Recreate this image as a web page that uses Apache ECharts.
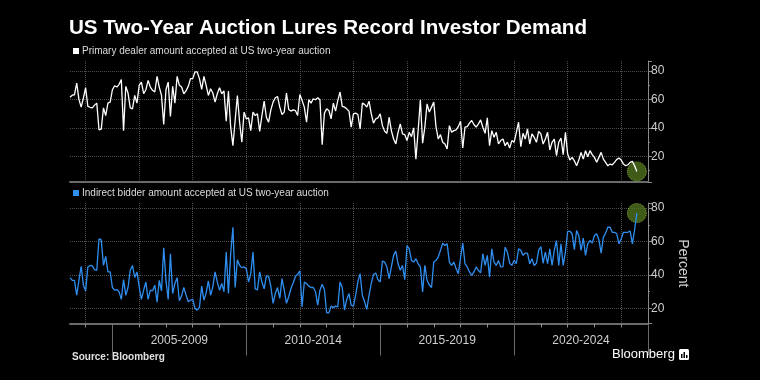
<!DOCTYPE html>
<html><head><meta charset="utf-8">
<script src="https://cdn.jsdelivr.net/npm/echarts@6/dist/echarts.min.js"></script>
<style>html,body{margin:0;padding:0;background:#000}#c{width:760px;height:380px}</style>
</head><body><div id="c"></div>
<script>
// Monthly two-year note auctions, Jun 2003 .. Aug 2024 (axis runs to Jan 2025)
const firstMonth = [2003, 6];
const lastAxisMonth = [2025, 1];

const primaryDealer = [
61.6,63,63.3,71.5,60,54.6,61,68.2,55.1,54.5,54.1,56,57.4,38.6,39.1,54.1,48.7,57.4,58.1,66.8,
69.6,68.7,70.6,73.9,38.1,69.2,64.5,54.1,53.4,62.8,57.4,69.9,72.2,64,66.8,73.4,68.7,66.4,65.2,76.2,
68.7,62.8,42.4,66.8,72.2,48,69.2,57.4,76.2,69.9,68.7,64,66,69.2,74.6,74.6,79.3,79.3,74.6,67,
76.2,69.9,62.8,67.5,64.5,58.1,64,68.2,64,66,44.7,65.9,40.5,27.5,45.2,62.8,44,29.9,51.1,46.4,
47.1,38.1,51.1,48.7,49.9,37.6,48.7,58.8,47.5,44,52.7,58.1,61.2,62.1,54.6,49.4,51.1,64.5,53,51.8,
52.7,52.2,48.7,63.5,59.3,54.6,44,59.8,57.4,60.5,59.8,61.2,59.8,28.2,50.4,53.4,52.2,46.4,57.4,51.8,
59.3,65.2,55.1,54.6,53.4,51.8,40.5,49.9,50.4,49.4,39.3,57.4,56.5,54.6,58.8,49.9,43.3,46.4,47.1,49.9,
41.6,37.6,36.2,47.5,38.1,32.2,28.7,36.9,42.8,35.8,35.3,31.1,36.9,33.9,40,18.1,38.1,59.8,29.2,40.5,
56.9,51.1,54.6,58.1,40.9,32.2,35.3,29.9,28.7,25.2,41.6,36.9,38.1,38.6,40.9,44.7,25.9,40.5,40.9,43.3,
45.2,42.4,40.5,42.8,45.6,40.5,36.2,47.1,27.5,38.1,33.4,36.9,28.7,31.1,32.2,27.5,30,25.9,31.1,29.9,
36.9,44,26.8,36.2,32.2,39.3,28.7,35.8,33.4,29.9,37.6,35.8,28.7,32.2,36.9,24.5,29.9,32.2,20.5,29.9,
32.9,21.2,36.9,21.6,17.4,19.3,16.9,13.4,17.4,22.8,18.1,24,19.8,24,21.2,19.3,15.8,19.3,22.8,18.1,
15.8,13.4,14.6,14.1,15.8,17.9,18.8,17.4,14.6,13.4,14.1,15.8,16.5,13.4,9.4
];

const indirectBidder = [
38.4,36.8,36.8,27.9,36.8,45.2,33.9,30.5,44.8,45.7,45.5,43.2,42.8,61.6,61,45.7,51.1,41.8,41.8,32.5,
30.9,31.3,29.9,25.4,37.2,27.9,32.5,42.8,45.7,38.5,41.8,32.9,25.4,30.9,35.8,25.4,30.9,30.5,33.9,23.8,
36.8,30.5,56.2,36.8,25.4,52.7,28.9,34.9,38.4,24.6,27.5,32.5,28.1,24,25,25.4,20,19,20.6,33.3,
25,29.3,36.4,27.9,32.9,41.8,35.9,30.9,34.9,30,53.7,28.9,52.7,68.5,32.5,49.1,45.7,44.4,44.8,43.8,
35.8,40.8,53.7,31.7,31.1,41.8,35.8,31.7,39.4,39.1,33.1,23,28.9,32.5,26,37.8,30.9,23,27,31.9,
35.2,39.1,40.4,42.4,21,35.8,34.9,33.3,32.5,32.5,30.1,22,30.9,34.5,31.3,17.4,17.4,21.4,20.5,21.4,
21,35.8,32.5,19,25.4,28.9,22,21.4,27.9,36,40.8,27.9,24,19.4,27.9,34.9,40.4,41.2,37.2,35.8,
48.3,47.7,44.8,37.8,44.8,51.7,54.3,46.7,42.8,45.7,37.2,57.6,55.6,48.7,47.7,49.7,46.7,44.8,29.9,45.7,
36.8,34,32.5,47.7,48.7,50.7,54.7,59,57.6,58.6,47.7,45.7,47.7,43.8,40.8,50.3,59,46.7,44.8,41.8,
39.8,41.8,44.8,42.8,41.2,52.7,45.7,51.7,38.8,55.6,47.7,45.7,48.7,44.8,45,56.6,53.7,47.1,45.7,48.7,
46.7,55.6,54.7,51.7,53.1,53,46.7,49.7,45.7,47,54.7,57,47,53.7,46.7,55.6,45.7,54.7,60.6,45.7,
58.6,45.7,53.7,66.1,66.1,64.6,55.1,66.5,63.6,54.7,62,51.7,58.6,60.6,59,63.6,64.6,61,53.1,62.6,
65,68.5,68.5,65.5,65.5,64.6,58.6,61.6,65.5,65.5,65.5,66.3,58.6,67,77
];

const periodLabels = ['2005-2009', '2010-2014', '2015-2019', '2020-2024'];
const periodCenters = ['2007-07', '2012-07', '2017-07', '2022-07'];
const periodEdges = ['2005-01', '2010-01', '2015-01', '2020-01', '2025-01'];
const yTicks = [20, 40, 60, 80];

const primaryName = 'Primary dealer amount accepted at US two-year auction';
const indirectName = 'Indirect bidder amount accepted at US two-year auction';

// month categories
const months = [];
{
  let y = firstMonth[0], m = firstMonth[1];
  while (y < lastAxisMonth[0] || (y === lastAxisMonth[0] && m <= lastAxisMonth[1])) {
    months.push(y + '-' + (m < 10 ? '0' + m : '' + m));
    m++; if (m > 12) { m = 1; y++; }
  }
}

const isJan = (i, v) => v.slice(5) === '01';
const isEvenYearJan = (i, v) => v.slice(5) === '01' && (+v.slice(0, 4)) % 2 === 0;
const isCenter = (i, v) => periodCenters.indexOf(v) >= 0;
const isEdge = (i, v) => periodEdges.indexOf(v) >= 0;

const FONT = 'Liberation Sans';
const gridV = { show: true, interval: isEvenYearJan, lineStyle: { color: '#4d4d4d', type: 'dotted', width: 1 } };
const T = 'rgba(0,0,0,0)', G = '#4d4d4d';

function yAxisCfg(gi, min, max, extra) {
  return Object.assign({
    gridIndex: gi, type: 'value', position: 'right', min: min, max: max,
    minInterval: 20, maxInterval: 20, splitNumber: 4,
    axisLine: { show: true, lineStyle: { color: '#8a8a8a', width: 1 } },
    axisTick: { show: true, length: 4, lineStyle: { color: '#8a8a8a' } },
    minorTick: { show: true, splitNumber: 2, length: 2, lineStyle: { color: '#8a8a8a' } },
    axisLabel: { color: '#cfcfcf', fontSize: 12, fontFamily: FONT, margin: 3, showMinLabel: false, showMaxLabel: false },
    splitLine: { show: true, lineStyle: { color: [T, G, G, G, G, T], type: 'dotted' } }
  }, extra || {});
}

const chart = echarts.init(document.getElementById('c'), null, { renderer: 'canvas' });
chart.setOption({
  backgroundColor: '#000',
  animation: false,
  textStyle: { fontFamily: FONT },
  title: {
    text: 'US Two-Year Auction Lures Record Investor Demand',
    left: 69, top: 18, padding: 0,
    textStyle: { color: '#fff', fontSize: 20.6, fontWeight: 'bold', fontFamily: FONT }
  },
  legend: [
    { data: [primaryName], left: 73, top: 46, padding: 0, icon: 'rect', itemWidth: 6, itemHeight: 6, itemGap: 4,
      textStyle: { color: '#dcdcdc', fontSize: 10, fontFamily: FONT, padding: [0, 0, 0, -2] }, selectedMode: false },
    { data: [indirectName], left: 73, top: 188, padding: 0, icon: 'rect', itemWidth: 6, itemHeight: 6, itemGap: 4,
      textStyle: { color: '#dcdcdc', fontSize: 10, fontFamily: FONT, padding: [0, 0, 0, -2] }, selectedMode: false }
  ],
  grid: [
    { left: 70, right: 112, top: 61, bottom: 198 },
    { left: 70, right: 112, top: 203, bottom: 56.5 }
  ],
  xAxis: [
    { gridIndex: 0, type: 'category', data: months, boundaryGap: false,
      axisLine: { show: true, lineStyle: { color: '#6a6a6a', width: 2 } },
      axisTick: { show: false }, axisLabel: { show: false }, splitLine: gridV },
    { gridIndex: 1, type: 'category', data: months, boundaryGap: false,
      axisLine: { show: true, lineStyle: { color: '#6a6a6a', width: 2 } },
      axisTick: { show: true, interval: isJan, length: 4, lineStyle: { color: '#8a8a8a' } },
      axisLabel: { show: true, interval: isCenter, color: '#cfcfcf', fontSize: 12, fontFamily: FONT, margin: 11,
        formatter: (v) => periodLabels[periodCenters.indexOf(v)] || '' },
      splitLine: gridV },
    { gridIndex: 1, type: 'category', data: months, boundaryGap: false, position: 'bottom',
      axisLine: { show: false },
      axisTick: { show: true, interval: isEdge, length: 32, lineStyle: { color: '#6a6a6a', width: 1 } },
      axisLabel: { show: false }, splitLine: { show: false } }
  ],
  yAxis: [
    yAxisCfg(0, 2, 87),
    yAxisCfg(1, 11, 83, { name: 'Percent', nameLocation: 'middle', nameRotate: -90, nameGap: 28,
      nameTextStyle: { color: '#d0d0d0', fontSize: 14, fontFamily: FONT } })
  ],
  series: [
    { name: primaryName + ' marker', type: 'scatter', xAxisIndex: 0, yAxisIndex: 0, z: 1, silent: true,
      data: [[months[primaryDealer.length - 1], primaryDealer[primaryDealer.length - 1]]],
      symbolSize: 19, itemStyle: { color: 'rgba(84,118,32,0.95)', borderColor: '#a9cf4a', borderWidth: 1, borderType: 'dotted' } },
    { name: primaryName, type: 'line', xAxisIndex: 0, yAxisIndex: 0, z: 3, data: primaryDealer,
      showSymbol: false, symbol: 'none', color: '#ffffff', lineStyle: { color: '#ffffff', width: 1.3 } },
    { name: indirectName + ' marker', type: 'scatter', xAxisIndex: 1, yAxisIndex: 1, z: 1, silent: true,
      data: [[months[indirectBidder.length - 1], indirectBidder[indirectBidder.length - 1]]],
      symbolSize: 19, itemStyle: { color: 'rgba(84,118,32,0.95)', borderColor: '#a9cf4a', borderWidth: 1, borderType: 'dotted' } },
    { name: indirectName, type: 'line', xAxisIndex: 1, yAxisIndex: 1, z: 3, data: indirectBidder,
      showSymbol: false, symbol: 'none', color: '#2f8ff0', lineStyle: { color: '#2f8ff0', width: 1.3 } }
  ],
  graphic: [
    { type: 'text', left: 72, top: 352, style: { text: 'Source: Bloomberg', fill: '#e0e0e0', font: 'bold 10px "Liberation Sans"' } },
    { type: 'text', left: 612, top: 348, style: { text: 'Bloomberg', fill: '#ffffff', font: '13px "Liberation Sans"' } },
    { type: 'rect', left: 679, top: 349, shape: { width: 10, height: 11, r: 1.5 }, style: { fill: '#ffffff' } },
    { type: 'rect', left: 681, top: 354, shape: { width: 1.5, height: 4 }, style: { fill: '#000' } },
    { type: 'rect', left: 683.5, top: 352, shape: { width: 1.5, height: 6 }, style: { fill: '#000' } },
    { type: 'rect', left: 686, top: 355, shape: { width: 1.5, height: 3 }, style: { fill: '#000' } }
  ]
});
</script>
</body></html>
